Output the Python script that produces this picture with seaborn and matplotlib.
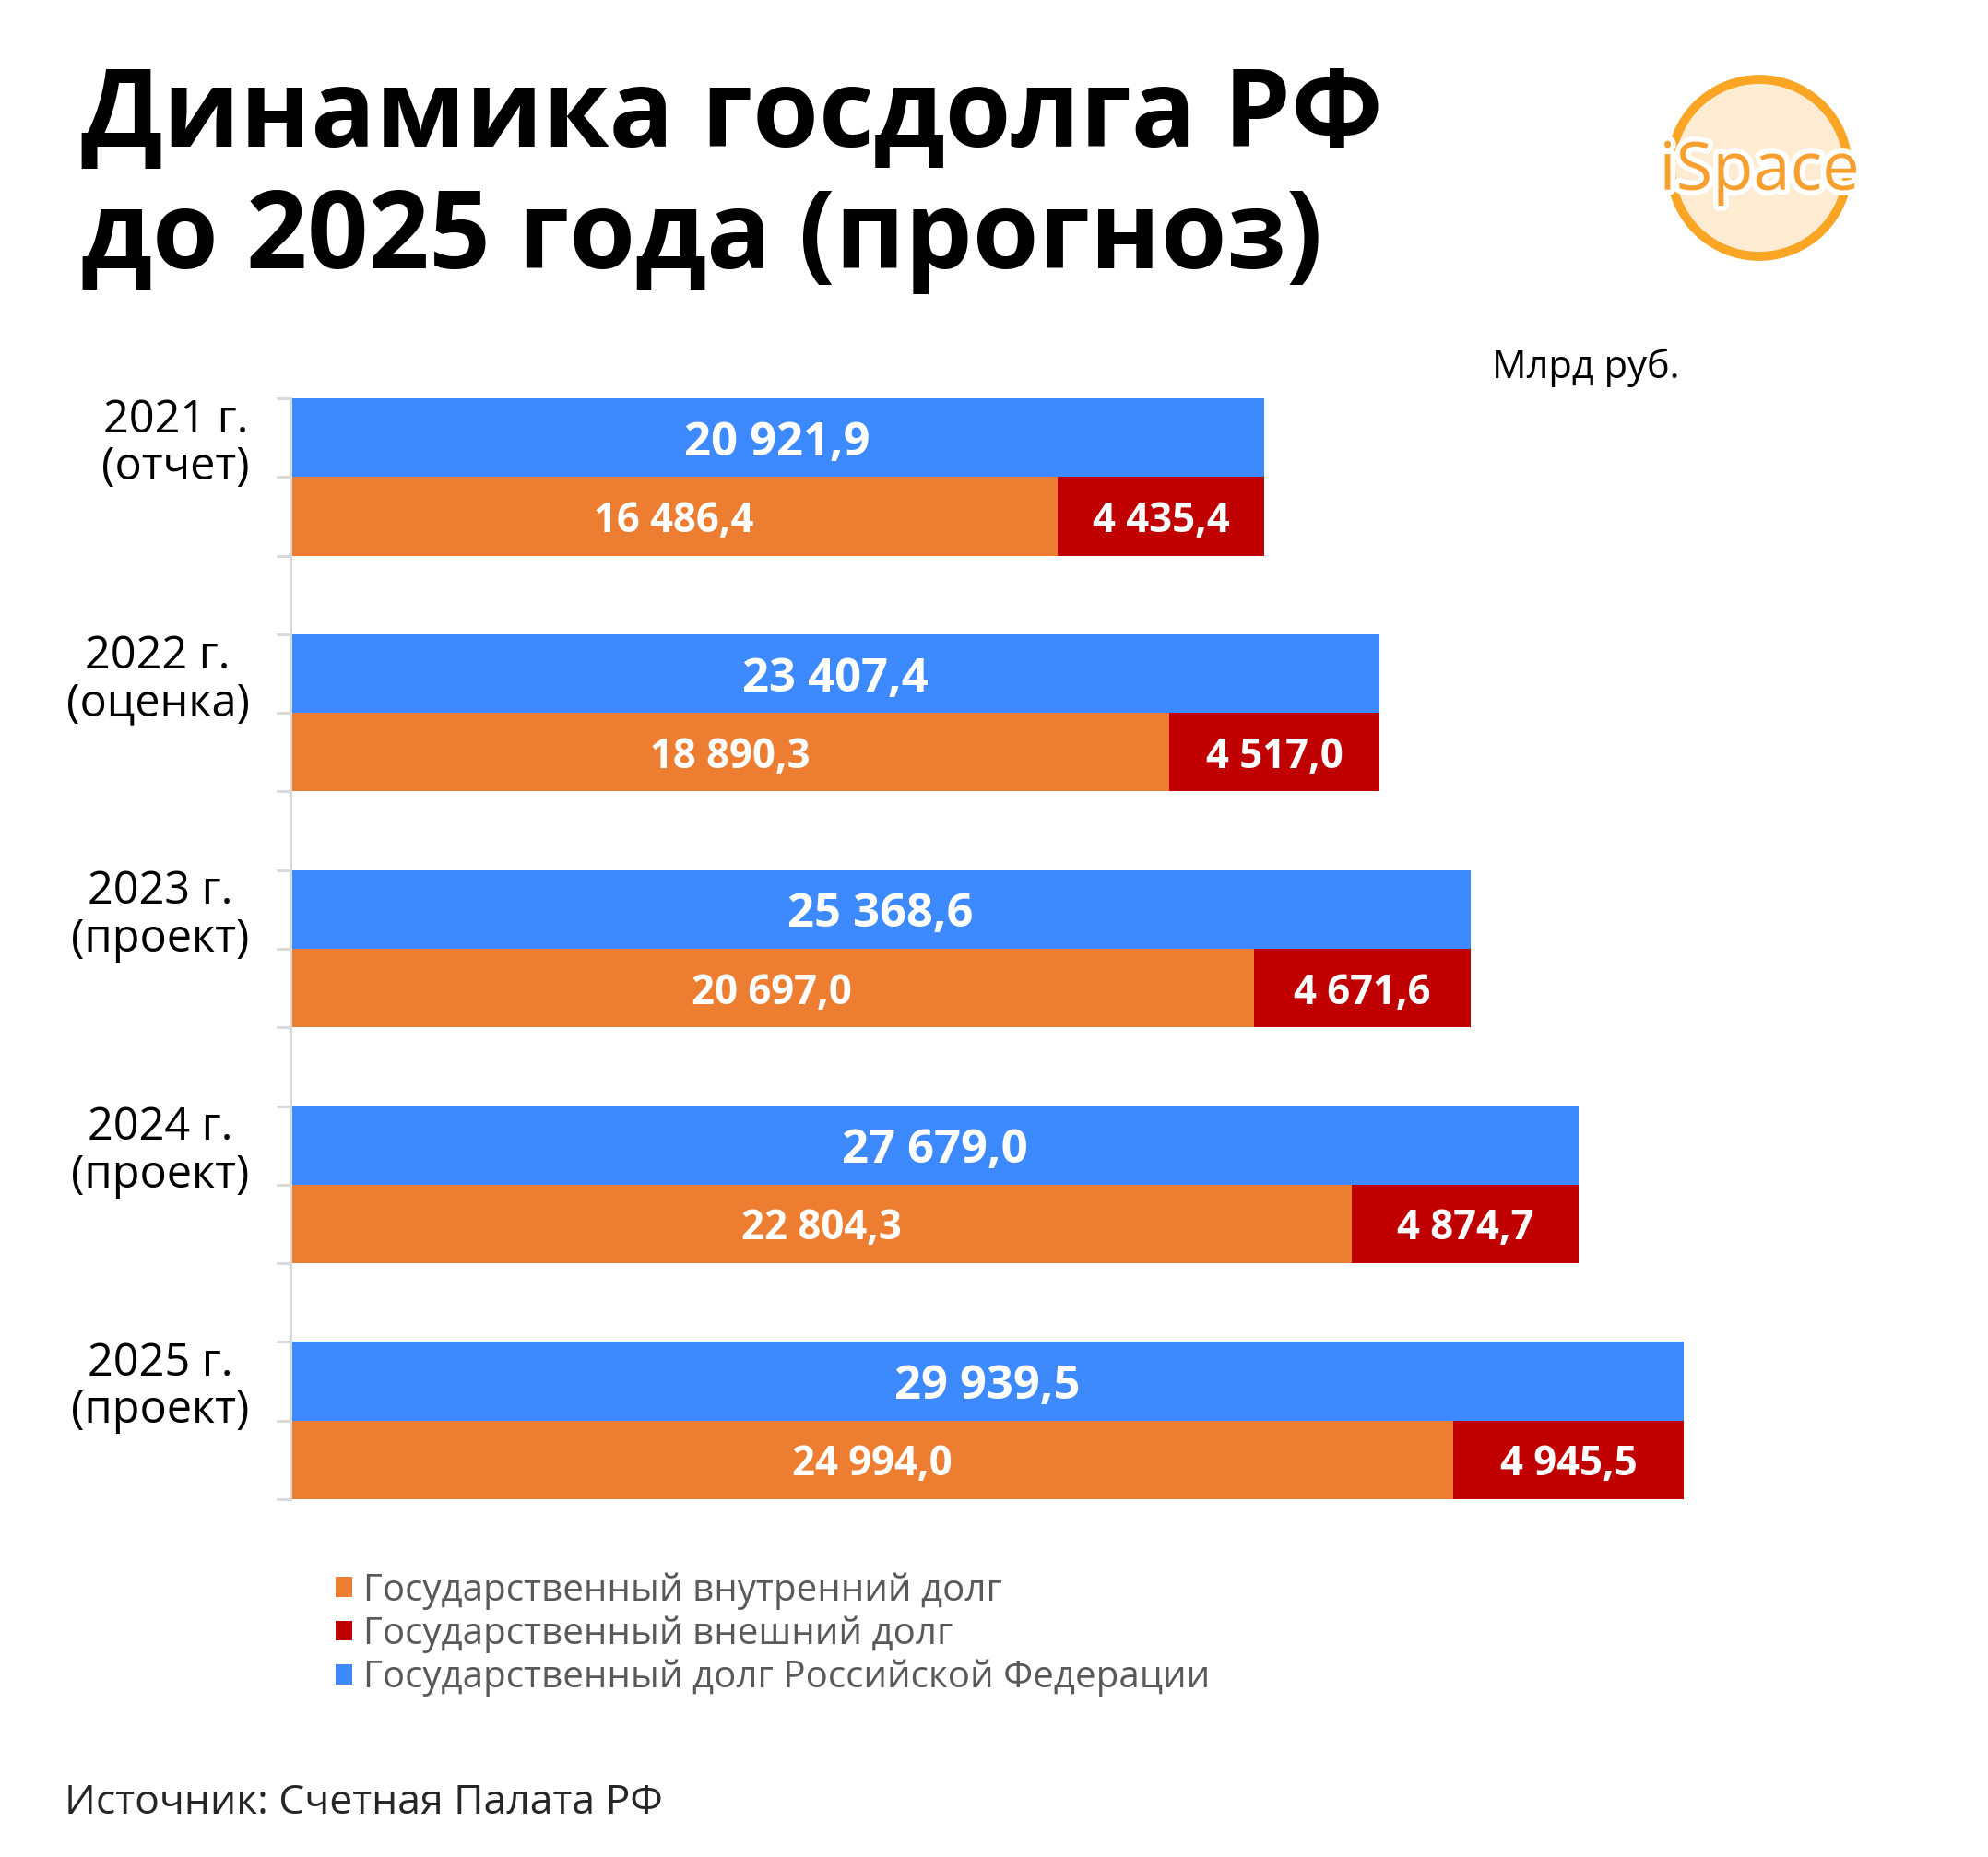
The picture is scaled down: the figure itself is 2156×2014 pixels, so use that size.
import matplotlib
matplotlib.use("Agg")
import matplotlib.pyplot as plt
import matplotlib.patheffects as pe
from matplotlib.patches import Patch, Circle
import seaborn as sns
import pandas as pd

# ---- data ----
years = ["2021 г.\n(отчет)", "2022 г.\n(оценка)", "2023 г.\n(проект)",
         "2024 г.\n(проект)", "2025 г.\n(проект)"]
total = [20921.9, 23407.4, 25368.6, 27679.0, 29939.5]
internal = [16486.4, 18890.3, 20697.0, 22804.3, 24994.0]
external = [4435.4, 4517.0, 4671.6, 4874.7, 4945.5]
legend_labels = ["Государственный внутренний долг",
                 "Государственный внешний долг",
                 "Государственный долг Российской Федерации"]

BLUE = "#3D89FF"
ORANGE = "#ED7D31"
RED = "#C00000"
FONT = ["Open Sans", "DejaVu Sans"]

sns.set_theme(style="white")
plt.rcParams["font.family"] = FONT

W, H = 2156, 2014
fig = plt.figure(figsize=(W / 100, H / 100), dpi=100)
ax_left, ax_top, ax_bottom = 315, 432, 1626
xmax = 32000
px_per_unit = (1826 - 315) / 29939.5
ax_w = xmax * px_per_unit
ax = fig.add_axes([ax_left / W, (H - ax_bottom) / H, ax_w / W, (ax_bottom - ax_top) / H])

# row layout: total row, split row, gap row
order = []
for i in range(len(years)):
    order += [f"t{i}", f"s{i}"]
    if i < len(years) - 1:
        order.append(f"g{i}")

df_total = pd.DataFrame({"row": [f"t{i}" for i in range(5)], "value": total})
df_sum = pd.DataFrame({"row": [f"s{i}" for i in range(5)],
                       "value": [a + b for a, b in zip(internal, external)]})
df_int = pd.DataFrame({"row": [f"s{i}" for i in range(5)], "value": internal})

common = dict(y="row", x="value", order=order, width=1.0, saturation=1,
              linewidth=0, ax=ax, orient="h")
sns.barplot(data=df_total, color=BLUE, **common)
sns.barplot(data=df_sum, color=RED, **common)
sns.barplot(data=df_int, color=ORANGE, **common)

ax.set_xlim(0, xmax)
ax.set_ylim(len(order) - 0.5, -0.5)
ax.set_xlabel("")
ax.set_ylabel("")
ax.xaxis.set_visible(False)
for s in ["top", "right", "bottom"]:
    ax.spines[s].set_visible(False)
ax.spines["left"].set_color("#D9D9D9")
ax.spines["left"].set_linewidth(2.2)

tpos = [order.index(f"t{i}") for i in range(5)]
ax.set_yticks(tpos)
ax.set_yticklabels(years, fontsize=35, color="black", linespacing=1.05)
for t in ax.get_yticklabels():
    t.set_multialignment("center")
ax.tick_params(axis="y", which="major", length=0, pad=32)
ax.set_yticks([p - 0.5 for p in range(len(order) + 1)], minor=True)
ax.tick_params(axis="y", which="minor", length=11, width=2.2, color="#D9D9D9", left=True)

def fmt(v):
    return f"{v:,.1f}".replace(",", " ").replace(".", ",")

for i in range(5):
    ax.text(total[i] / 2, tpos[i], fmt(total[i]), ha="center", va="center_baseline",
            color="white", fontsize=36.5, fontweight="bold")
    ax.text(internal[i] / 2, tpos[i] + 1, fmt(internal[i]), ha="center",
            va="center_baseline", color="white", fontsize=31.5, fontweight="bold")
    ax.text(internal[i] + external[i] / 2, tpos[i] + 1, fmt(external[i]), ha="center",
            va="center_baseline", color="white", fontsize=31.5, fontweight="bold")

# title
fig.text(88 / W, 1 - 159 / H, "Динамика госдолга РФ", fontsize=83.5, fontweight="bold",
         color="black", ha="left", va="baseline")
fig.text(88 / W, 1 - 291 / H, "до 2025 года (прогноз)", fontsize=83.5, fontweight="bold",
         color="black", ha="left", va="baseline")

fig.text(1822 / W, 1 - 410 / H, "Млрд руб.", fontsize=30, color="black",
         ha="right", va="baseline")

# legend
handles = [Patch(facecolor=ORANGE, edgecolor="none"),
           Patch(facecolor=RED, edgecolor="none"),
           Patch(facecolor=BLUE, edgecolor="none")]
leg = fig.legend(handles, legend_labels, loc="upper left",
                 bbox_to_anchor=(348 / W, 1 - 1689 / H), frameon=False,
                 fontsize=29, handlelength=0.45, handleheight=0.45,
                 handletextpad=0.3, labelspacing=0.17, borderaxespad=0)
for t in leg.get_texts():
    t.set_color("#595959")

fig.text(70 / W, 1 - 1967 / H, "Источник: Счетная Палата РФ", fontsize=32,
         color="#262626", ha="left", va="baseline")

# logo
lax = fig.add_axes([1790 / W, 1 - 300 / H, 236 / W, 236 / H])
lax.set_xlim(-1.18, 1.18)
lax.set_ylim(-1.18, 1.18)
lax.set_aspect("equal")
lax.axis("off")
lax.add_patch(Circle((0, 0), 0.92, facecolor="#FDEBD2", edgecolor="none"))
lax.add_patch(Circle((0, 0), 0.96, facecolor="none", edgecolor="#FBA525", linewidth=7))
lax.text(0, -0.05, "iSpace", ha="center", va="center", fontsize=52,
         color="#F7A030", family=FONT,
         path_effects=[pe.withStroke(linewidth=8, foreground="white")])

fig.savefig("out.png", dpi=100, facecolor="white")
